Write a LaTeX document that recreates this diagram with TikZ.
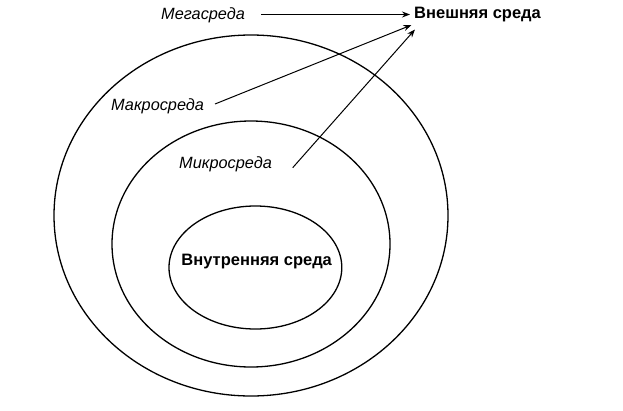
\documentclass[tikz,border=0pt]{standalone}
\usepackage{fontspec}
\setmainfont{Liberation Sans}
\usetikzlibrary{arrows.meta}
\begin{document}
\begin{tikzpicture}[x=1pt,y=-1pt,
  ring/.style={draw,line width=1.3pt},
  lab/.style={font=\fontsize{16.3}{18}\selectfont\itshape,inner sep=0pt,anchor=west},
  blab/.style={font=\fontsize{16.5}{18}\selectfont\bfseries,inner sep=0pt},
  arr/.style={line width=1pt,-{Stealth[length=8pt,width=6pt]}}]
\useasboundingbox (0,0) rectangle (623,410);
\draw[ring] (251,215.5) ellipse [x radius=197, y radius=180.5];
\draw[ring] (251,244) ellipse [x radius=139, y radius=123];
\draw[ring] (255.4,267.5) ellipse [x radius=86.4, y radius=61.5];
\node[blab] (inner) at (256.7,262) {Внутренняя среда};
\node[blab,anchor=west] (ext) at (414,15) {Внешняя среда};
\node[lab] (mega) at (161,15) {Мегасреда};
\node[lab] (macro) at (111,106.5) {Макросреда};
\node[lab] (micro) at (179,164) {Микросреда};
\coordinate (megaS) at (261,14.5);
\coordinate (megaE) at (410,14.5);
\coordinate (macroS) at (215,104);
\coordinate (macroE) at (411.5,25);
\coordinate (microS) at (292.7,167.7);
\coordinate (microE) at (415,29.5);
\draw[arr] (megaS) -- (megaE);
\draw[arr] (macroS) -- (macroE);
\draw[arr] (microS) -- (microE);
\end{tikzpicture}
\end{document}
